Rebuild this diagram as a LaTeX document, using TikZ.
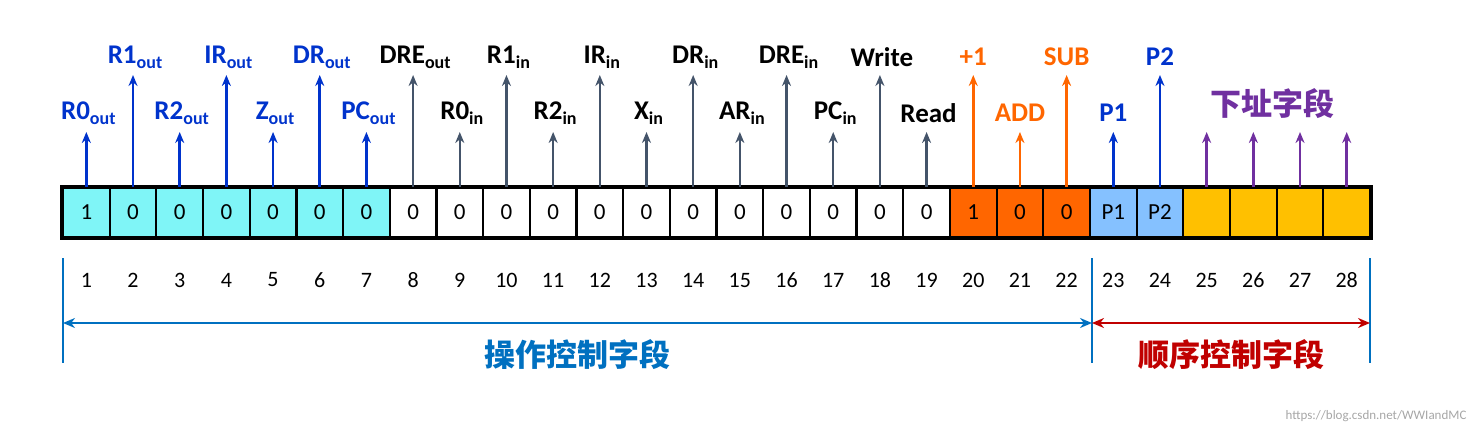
\documentclass[tikz,border=0pt]{standalone}
\usepackage{fontspec}
\setmainfont{Carlito}
\newfontfamily\cjk{Noto Sans CJK SC}
\usetikzlibrary{arrows.meta}
\definecolor{lblue}{HTML}{0033CC}
\definecolor{dgray}{HTML}{44546A}
\definecolor{orng}{HTML}{FF6600}
\definecolor{purp}{HTML}{7030A0}
\definecolor{cyanc}{HTML}{7FF5F7}
\definecolor{lbc}{HTML}{85C1FF}
\definecolor{yel}{HTML}{FFC000}
\definecolor{brblue}{HTML}{0070C0}
\definecolor{brred}{HTML}{C00000}
\newcommand{\sbs}[1]{\raisebox{-5pt}{\fontsize{18}{18}\selectfont\bfseries #1}}
\tikzset{
 cellbox/.style={draw=black,line width=2.2pt,minimum width=46.68pt,minimum height=49pt,inner sep=0pt,font=\fontsize{23}{23}\selectfont},
 sig/.style={line width=2.5pt,-{Stealth[length=11pt,width=9pt]}},
 lab/.style={font=\fontsize{27}{27}\selectfont\bfseries,inner sep=0pt},
 num/.style={font=\fontsize{22}{22}\selectfont,inner sep=0pt},
}
\begin{document}
\begin{tikzpicture}[x=1pt,y=-1pt]
\useasboundingbox (0,0) rectangle (1478,436);
\def\cw{46.68}
\foreach \i/\v/\c in {1/1/cyanc,2/0/cyanc,3/0/cyanc,4/0/cyanc,5/0/cyanc,6/0/cyanc,7/0/cyanc,
 8/0/white,9/0/white,10/0/white,11/0/white,12/0/white,13/0/white,14/0/white,15/0/white,16/0/white,17/0/white,18/0/white,19/0/white,
 20/1/orng,21/0/orng,22/0/orng,23/P1/lbc,24/P2/lbc,25/{}/yel,26/{}/yel,27/{}/yel,28/{}/yel}{
 \node[cellbox,fill=\c] (c\i) at ({63+(\i-0.5)*\cw},212.5) {\v};
 \node[num] (n\i) at ({63+(\i-0.5)*\cw},280) {\i};
}
\draw[line width=4.5pt] (c1.north west) rectangle (c28.south east);
\foreach \i/\t/\col/\h in {
 1/R0\sbs{out}/lblue/l, 2/R1\sbs{out}/lblue/h, 3/R2\sbs{out}/lblue/l, 4/IR\sbs{out}/lblue/h,
 5/Z\sbs{out}/lblue/l, 6/DR\sbs{out}/lblue/h, 7/PC\sbs{out}/lblue/l,
 8/DRE\sbs{out}/black/h, 9/R0\sbs{in}/black/l, 10/R1\sbs{in}/black/h, 11/R2\sbs{in}/black/l,
 12/IR\sbs{in}/black/h, 13/X\sbs{in}/black/l, 14/DR\sbs{in}/black/h, 15/AR\sbs{in}/black/l,
 16/DRE\sbs{in}/black/h, 17/PC\sbs{in}/black/l, 18/Write/black/h, 19/Read/black/l,
 20/+1/orng/h, 21/ADD/orng/l, 22/SUB/orng/h, 23/P1/lblue/l, 24/P2/lblue/h}{
 \if\h l\def\ty{132}\def\ly{113}\else\def\ty{75}\def\ly{57}\fi
 \coordinate (t\i) at ({63+(\i-0.5)*\cw},\ty);
 \ifnum\i<8 \def\ac{lblue}\else\ifnum\i<20 \def\ac{dgray}\else\ifnum\i<23 \def\ac{orng}\else\def\ac{lblue}\fi\fi\fi
 \draw[sig,draw=\ac] (c\i.north) -- (t\i);
 \node[lab,text=\col] (l\i) at ({63+(\i-0.5)*\cw+(\i<20?2:0)},\ly) {\t};
}
\foreach \i in {25,26,27,28}{
 \coordinate (t\i) at ({63+(\i-0.5)*\cw},132);
 \draw[sig,draw=purp] (c\i.north) -- (t\i);
}
\node[font=\fontsize{31}{31}\selectfont\cjk\bfseries,text=purp] (xz) at (1272,104) {下址字段};
\coordinate (b1t) at (63,258); \coordinate (b1b) at (63,363);
\coordinate (b2t) at (1092,258); \coordinate (b2b) at (1092,363);
\coordinate (b3t) at (1370,258); \coordinate (b3b) at (1370,363);
\draw[brblue,line width=2.5pt] (b1t) -- (b1b) (b2t) -- (b2b) (b3t) -- (b3b);
\coordinate (a1) at (63,323); \coordinate (a2) at (1092,323); \coordinate (a3) at (1370,323);
\draw[brblue,line width=2.5pt,{Stealth[length=12pt,width=10pt]}-{Stealth[length=12pt,width=10pt]}] (a1) -- (a2);
\draw[brred,line width=2.5pt,{Stealth[length=12pt,width=10pt]}-{Stealth[length=12pt,width=10pt]}] (a2) -- (a3);
\node[font=\fontsize{31}{31}\selectfont\cjk\bfseries,text=brblue] (op) at (577,355) {操作控制字段};
\node[font=\fontsize{31}{31}\selectfont\cjk\bfseries,text=brred] (sq) at (1231,355) {顺序控制字段};
\node[font=\fontsize{13}{13}\selectfont,text=gray!70,anchor=east] (wm) at (1470,416) {https://blog.csdn.net/WWIandMC};
\end{tikzpicture}
\end{document}
